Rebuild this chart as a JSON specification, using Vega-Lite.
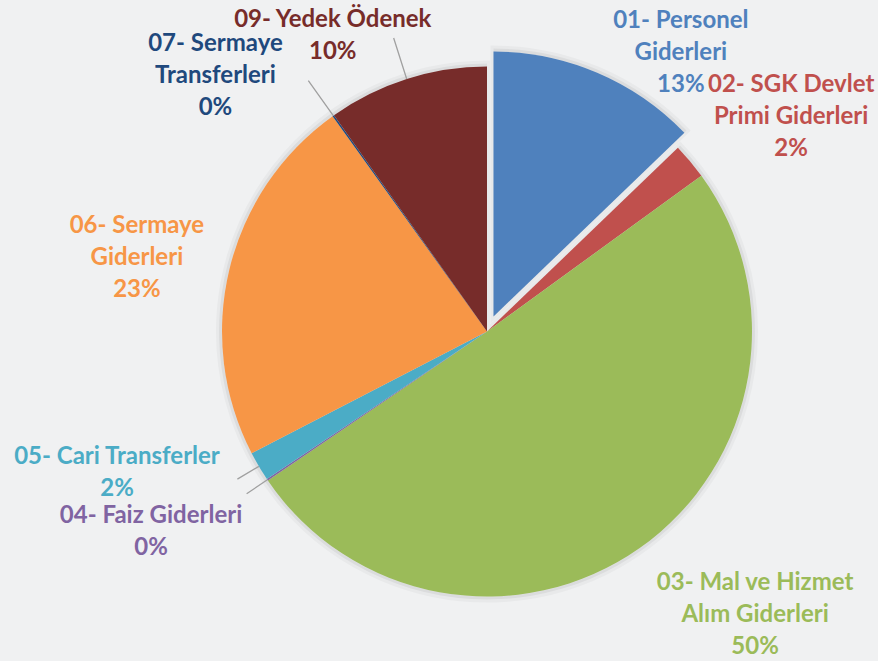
{
  "$schema": "https://vega.github.io/schema/vega-lite/v6.json",
  "width": 782,
  "height": 659,
  "autosize": {"type": "none"},
  "padding": {"left": 96, "top": 2, "right": 0, "bottom": 0},
  "background": "#F0F1F2",
  "config": {"view": {"stroke": null}, "text": {"font": "Lato"}},
  "data": {
    "values": [
      {"order": 1, "category": "01- Personel Giderleri", "label": "01- Personel\nGiderleri\n13%", "value": 12.8},
      {"order": 2, "category": "02- SGK Devlet Primi Giderleri", "label": "02- SGK Devlet\nPrimi Giderleri\n2%", "value": 2.2},
      {"order": 3, "category": "03- Mal ve Hizmet Alım Giderleri", "label": "03- Mal ve Hizmet\nAlım Giderleri\n50%", "value": 50.5},
      {"order": 4, "category": "04- Faiz Giderleri", "label": "04- Faiz Giderleri\n0%", "value": 0.1},
      {"order": 5, "category": "05- Cari Transferler", "label": "05- Cari Transferler\n2%", "value": 1.8},
      {"order": 6, "category": "06- Sermaye Giderleri", "label": "06- Sermaye\nGiderleri\n23%", "value": 22.7},
      {"order": 7, "category": "07- Sermaye Transferleri", "label": "07- Sermaye\nTransferleri\n0%", "value": 0.1},
      {"order": 8, "category": "09- Yedek Ödenek", "label": "09- Yedek Ödenek\n10%", "value": 9.8}
    ]
  },
  "transform": [
    {"stack": "value", "groupby": [], "sort": [{"field": "order", "order": "ascending"}], "as": ["v0", "v1"]},
    {"calculate": "(datum.v0 + datum.v1) / 2", "as": "mid"}
  ],
  "layer": [
    {
      "transform": [
        {"filter": "datum.order != 1"},
        {"aggregate": [{"op": "min", "field": "v0", "as": "a0"}, {"op": "max", "field": "v1", "as": "a1"}]}
      ],
      "mark": {"type": "arc", "radius": 268, "fill": "#000000", "fillOpacity": 0.05, "stroke": "#000000", "strokeOpacity": 0.03, "strokeWidth": 6},
      "encoding": {
        "theta": {"field": "a0", "type": "quantitative", "scale": {"domain": [0, 100], "range": [0, 6.283185307]}},
        "theta2": {"field": "a1"}
      }
    },
    {
      "transform": [{"filter": "datum.order == 1"}],
      "mark": {"type": "arc", "radius": 268, "xOffset": 6.5, "yOffset": -15, "fill": "#000000", "fillOpacity": 0.05, "stroke": "#000000", "strokeOpacity": 0.03, "strokeWidth": 6},
      "encoding": {
        "theta": {"field": "v0", "type": "quantitative", "scale": {"domain": [0, 100], "range": [0, 6.283185307]}},
        "theta2": {"field": "v1"}
      }
    },
    {
      "transform": [{"filter": "datum.order != 1"}],
      "mark": {"type": "arc", "radius": 265, "stroke": null},
      "encoding": {
        "theta": {"field": "v0", "type": "quantitative", "scale": {"domain": [0, 100], "range": [0, 6.283185307]}},
        "theta2": {"field": "v1"},
        "color": {
          "field": "category", "type": "nominal", "legend": null,
          "scale": {
            "domain": ["01- Personel Giderleri", "02- SGK Devlet Primi Giderleri", "03- Mal ve Hizmet Alım Giderleri", "04- Faiz Giderleri", "05- Cari Transferler", "06- Sermaye Giderleri", "07- Sermaye Transferleri", "09- Yedek Ödenek"],
            "range": ["#4F81BD", "#C0504D", "#9BBB59", "#8064A2", "#4BACC6", "#F79646", "#1F497D", "#772C2A"]
          }
        }
      }
    },
    {
      "transform": [{"filter": "datum.order == 1"}],
      "mark": {"type": "arc", "radius": 265, "xOffset": 6.5, "yOffset": -15, "stroke": null},
      "encoding": {
        "theta": {"field": "v0", "type": "quantitative", "scale": {"domain": [0, 100], "range": [0, 6.283185307]}},
        "theta2": {"field": "v1"},
        "color": {"field": "category", "type": "nominal", "legend": null}
      }
    },
    {
      "transform": [{"filter": "datum.order == 7 || datum.order == 8"}],
      "mark": {"type": "arc", "radius": 308, "radius2": 265, "fill": null, "stroke": "#A0A0A0", "strokeWidth": 1.3},
      "encoding": {
        "theta": {"field": "mid", "type": "quantitative", "scale": {"domain": [0, 100], "range": [0, 6.283185307]}},
        "theta2": {"field": "mid"}
      }
    },
    {
      "transform": [{"filter": "datum.order == 4 || datum.order == 5"}],
      "mark": {"type": "arc", "radius": 290, "radius2": 265, "fill": null, "stroke": "#A0A0A0", "strokeWidth": 1.3},
      "encoding": {
        "theta": {"field": "mid", "type": "quantitative", "scale": {"domain": [0, 100], "range": [0, 6.283185307]}},
        "theta2": {"field": "mid"}
      }
    },
    {
      "transform": [{"filter": "datum.order == 1"}],
      "mark": {"type": "text", "radius": 342, "dx": 60, "dy": 4, "fontSize": 24, "fontWeight": "bold", "lineBreak": "\n", "lineHeight": 32, "align": "center", "baseline": "middle"},
      "encoding": {
        "theta": {"field": "mid", "type": "quantitative", "scale": {"domain": [0, 100], "range": [0, 6.283185307]}},
        "text": {"field": "label"},
        "color": {"field": "category", "type": "nominal", "legend": null}
      }
    },
    {
      "transform": [{"filter": "datum.order == 2"}],
      "mark": {"type": "text", "radius": 374, "dx": 17.5, "dy": -6, "fontSize": 24, "fontWeight": "bold", "lineBreak": "\n", "lineHeight": 32, "align": "center", "baseline": "middle"},
      "encoding": {
        "theta": {"field": "mid", "type": "quantitative", "scale": {"domain": [0, 100], "range": [0, 6.283185307]}},
        "text": {"field": "label"},
        "color": {"field": "category", "type": "nominal", "legend": null}
      }
    },
    {
      "transform": [{"filter": "datum.order == 3"}],
      "mark": {"type": "text", "radius": 388, "dx": 45, "dy": -66, "fontSize": 24, "fontWeight": "bold", "lineBreak": "\n", "lineHeight": 32, "align": "center", "baseline": "middle"},
      "encoding": {
        "theta": {"field": "mid", "type": "quantitative", "scale": {"domain": [0, 100], "range": [0, 6.283185307]}},
        "text": {"field": "label"},
        "color": {"field": "category", "type": "nominal", "legend": null}
      }
    },
    {
      "transform": [{"filter": "datum.order == 4"}],
      "mark": {"type": "text", "radius": 390, "dx": -12.7, "dy": -33.5, "fontSize": 24, "fontWeight": "bold", "lineBreak": "\n", "lineHeight": 32, "align": "center", "baseline": "middle"},
      "encoding": {
        "theta": {"field": "mid", "type": "quantitative", "scale": {"domain": [0, 100], "range": [0, 6.283185307]}},
        "text": {"field": "label"},
        "color": {"field": "category", "type": "nominal", "legend": null}
      }
    },
    {
      "transform": [{"filter": "datum.order == 5"}],
      "mark": {"type": "text", "radius": 395, "dx": -30, "dy": -75.5, "fontSize": 24, "fontWeight": "bold", "lineBreak": "\n", "lineHeight": 32, "align": "center", "baseline": "middle"},
      "encoding": {
        "theta": {"field": "mid", "type": "quantitative", "scale": {"domain": [0, 100], "range": [0, 6.283185307]}},
        "text": {"field": "label"},
        "color": {"field": "category", "type": "nominal", "legend": null}
      }
    },
    {
      "transform": [{"filter": "datum.order == 6"}],
      "mark": {"type": "text", "radius": 358, "dx": -2, "dy": -22, "fontSize": 24, "fontWeight": "bold", "lineBreak": "\n", "lineHeight": 32, "align": "center", "baseline": "middle"},
      "encoding": {
        "theta": {"field": "mid", "type": "quantitative", "scale": {"domain": [0, 100], "range": [0, 6.283185307]}},
        "text": {"field": "label"},
        "color": {"field": "category", "type": "nominal", "legend": null}
      }
    },
    {
      "transform": [{"filter": "datum.order == 7"}],
      "mark": {"type": "text", "radius": 375, "dx": -54, "dy": 18, "fontSize": 24, "fontWeight": "bold", "lineBreak": "\n", "lineHeight": 32, "align": "center", "baseline": "middle"},
      "encoding": {
        "theta": {"field": "mid", "type": "quantitative", "scale": {"domain": [0, 100], "range": [0, 6.283185307]}},
        "text": {"field": "label"},
        "color": {"field": "category", "type": "nominal", "legend": null}
      }
    },
    {
      "transform": [{"filter": "datum.order == 8"}],
      "mark": {"type": "text", "radius": 335, "dx": -52.7, "dy": 7.8, "fontSize": 24, "fontWeight": "bold", "lineBreak": "\n", "lineHeight": 32, "align": "center", "baseline": "middle"},
      "encoding": {
        "theta": {"field": "mid", "type": "quantitative", "scale": {"domain": [0, 100], "range": [0, 6.283185307]}},
        "text": {"field": "label"},
        "color": {"field": "category", "type": "nominal", "legend": null}
      }
    }
  ]
}
